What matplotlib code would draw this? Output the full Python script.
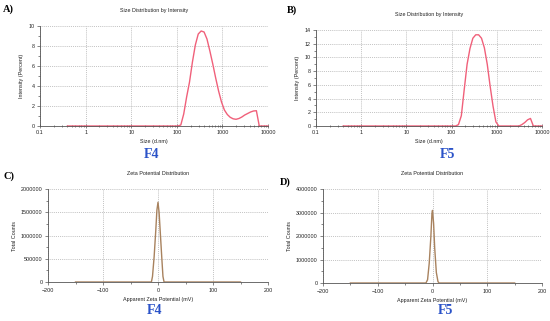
import matplotlib
matplotlib.use('Agg')
import matplotlib.pyplot as plt
from matplotlib.ticker import MultipleLocator, LogLocator, FuncFormatter, NullFormatter

plt.rcParams['font.family'] = ['Liberation Sans', 'DejaVu Sans']

# size bins (d.nm)
size_nm = [0.4, 0.4632, 0.5365, 0.6213, 0.7195, 0.8332, 0.9649, 1.117, 1.294, 1.499,
           1.736, 2.010, 2.328, 2.696, 3.122, 3.615, 4.187, 4.849, 5.615, 6.503,
           7.531, 8.721, 10.10, 11.70, 13.54, 15.69, 18.17, 21.04, 24.36, 28.21,
           32.67, 37.84, 43.82, 50.75, 58.77, 68.06, 78.82, 91.28, 105.7, 122.4,
           141.8, 164.2, 190.1, 220.2, 255.0, 295.3, 342.0, 396.1, 458.7, 531.2,
           615.1, 712.4, 825.0, 955.4, 1106, 1281, 1484, 1718, 1990, 2305,
           2669, 3091, 3580, 4145, 4801, 5560, 6439, 7456, 8635, 10000]

# intensity (%) F4, F5
f4_intensity = [0]*39 + [0.1, 1.2, 2.9, 4.4, 6.4, 8.1, 9.2, 9.5, 9.4, 8.7, 7.5,
                         6.2, 4.8, 3.5, 2.4, 1.6, 1.15, 0.87, 0.72, 0.67, 0.75,
                         0.9, 1.1, 1.25, 1.4, 1.5, 1.53, 0, 0, 0, 0]
f5_intensity = [0]*39 + [0, 0.2, 1.5, 5.3, 9.0, 11.3, 12.8, 13.3, 13.3, 12.8, 11.4,
                         9.0, 5.8, 2.9, 0.6, 0, 0, 0, 0, 0, 0,
                         0, 0, 0.2, 0.5, 0.9, 1.1, 0, 0, 0, 0]

# zeta potential (mV) vs total counts
f4_zeta = [-150, -12, -10, -7, -4, -2, 0, 2, 4, 7, 9, 11, 150]
f4_counts = [0, 0, 1.2e5, 5.5e5, 1.12e6, 1.55e6, 1.72e6, 1.5e6, 1.1e6, 5.0e5, 1.2e5, 0, 0]
f5_zeta = [-150, -12, -9, -6, -3, -1, 0, 2, 4, 7, 10, 12, 150]
f5_counts = [0, 0, 1.4e5, 8.4e5, 1.98e6, 2.97e6, 3.1e6, 2.55e6, 1.5e6, 4.5e5, 6e4, 0, 0]

W, H = 550, 321
fig = plt.figure(figsize=(5.5, 3.21), dpi=100)
fs = 3.9
grid_kw = dict(color='#b0b0b0', linestyle=(0, (1, 1.3)), linewidth=0.6)
red = '#f0607a'
brown = '#a8825e'


def ax_at(l, r, t, b):
    return fig.add_axes([l / W, 1 - b / H, (r - l) / W, (b - t) / H])


def style(ax):
    for s in ['top', 'right']:
        ax.spines[s].set_visible(False)
    for s in ['left', 'bottom']:
        ax.spines[s].set_color('#555555')
        ax.spines[s].set_linewidth(0.6)
    ax.tick_params(which='both', labelsize=fs, colors='#555555', width=0.5, labelcolor='#222222', pad=1.5)
    ax.tick_params(which='major', length=2.5)
    ax.tick_params(which='minor', length=1.5)
    ax.grid(True, which='major', **grid_kw)
    ax.set_axisbelow(True)


def log_fmt(v, pos):
    return '%g' % v


def size_panel(ax, y, ymax, title):
    ax.plot(size_nm, y, color=red, linewidth=1.0, clip_on=False)
    ax.set_xscale('log')
    ax.set_xlim(0.1, 10000)
    ax.set_ylim(0, ymax)
    ax.xaxis.set_major_locator(LogLocator(base=10, numticks=10))
    ax.xaxis.set_major_formatter(FuncFormatter(log_fmt))
    ax.xaxis.set_minor_locator(LogLocator(base=10, subs=range(2, 10), numticks=20))
    ax.xaxis.set_minor_formatter(NullFormatter())
    ax.yaxis.set_major_locator(MultipleLocator(2))
    ax.yaxis.set_minor_locator(MultipleLocator(1))
    style(ax)
    ax.tick_params(axis='x', which='both', direction='inout')
    ax.set_title(title, fontsize=fs, pad=10, color='#222222')
    ax.set_xlabel('Size (d.nm)', fontsize=fs, labelpad=3, color='#222222')
    ax.set_ylabel('Intensity (Percent)', fontsize=fs, labelpad=3, color='#222222')


def zeta_panel(ax, x, y, ymax, step):
    ax.plot(x, y, color=brown, linewidth=1.0)
    ax.set_xlim(-200, 200)
    ax.set_ylim(0, ymax)
    ax.xaxis.set_major_locator(MultipleLocator(100))
    ax.xaxis.set_minor_locator(MultipleLocator(50))
    ax.yaxis.set_major_locator(MultipleLocator(step))
    ax.yaxis.set_minor_locator(MultipleLocator(step / 2))
    ax.yaxis.set_major_formatter(FuncFormatter(lambda v, p: '%d' % v))
    style(ax)
    ax.set_title('Zeta Potential Distribution', fontsize=fs, pad=10, color='#222222')
    ax.set_xlabel('Apparent Zeta Potential (mV)', fontsize=fs, labelpad=3, color='#222222')
    ax.set_ylabel('Total Counts', fontsize=fs, labelpad=3, color='#222222')


axA = ax_at(40, 268, 26, 126)
size_panel(axA, f4_intensity, 10, 'Size Distribution by Intensity')
axB = ax_at(316, 542, 30, 126)
size_panel(axB, f5_intensity, 14, 'Size Distribution by Intensity')
axC = ax_at(48, 268, 189.3, 282)
zeta_panel(axC, f4_zeta, f4_counts, 2000000, 500000)
axD = ax_at(323, 542, 189.3, 283)
zeta_panel(axD, f5_zeta, f5_counts, 4000000, 1000000)

# panel letters and sample names
serif = ['Liberation Serif', 'DejaVu Serif']
for lbl, x, y in [('A)', 3, 9), ('B)', 287, 10), ('C)', 3, 176), ('D)', 280, 182)]:
    fig.text(x / W, 1 - y / H, lbl, fontsize=7.5, fontweight='bold', family=serif,
             ha='left', va='center')
for lbl, x, y in [('F4', 152, 155), ('F5', 447, 155), ('F4', 155, 310), ('F5', 445, 310)]:
    fig.text(x / W, 1 - y / H, lbl, fontsize=10, fontweight='bold', family=serif,
             color='#2a52c8', ha='center', va='center')

fig.savefig('out.png', dpi=100)
